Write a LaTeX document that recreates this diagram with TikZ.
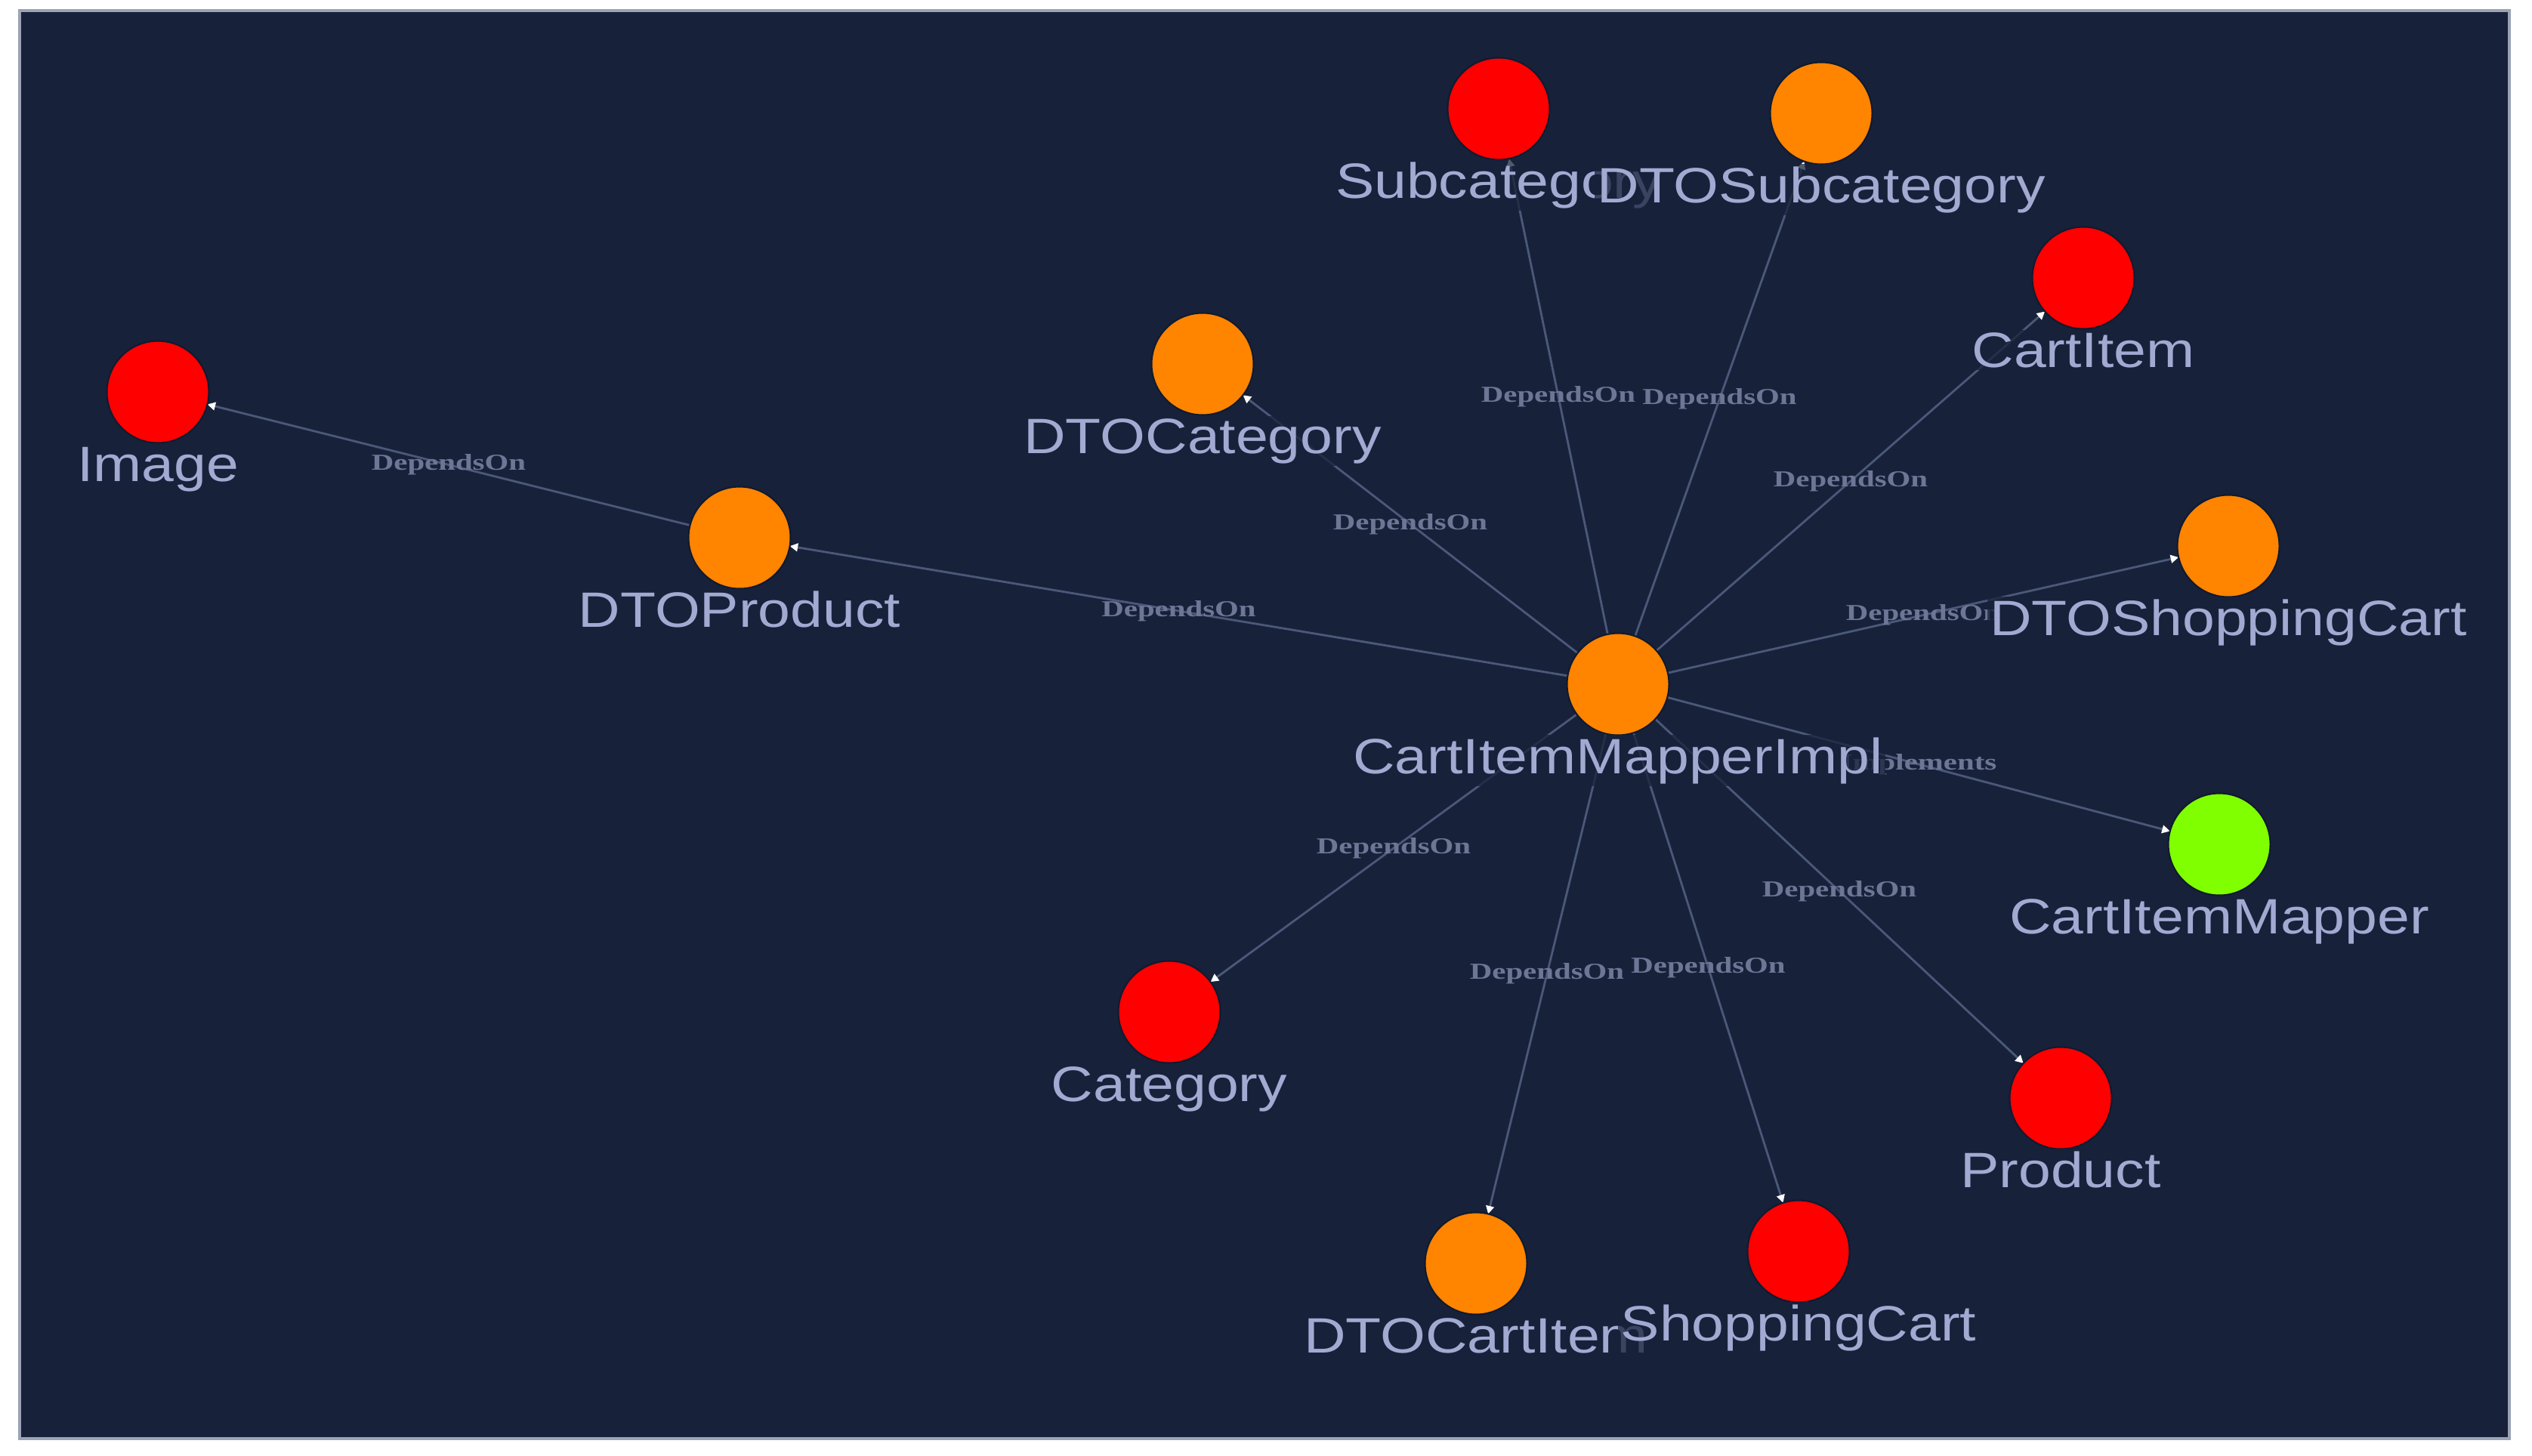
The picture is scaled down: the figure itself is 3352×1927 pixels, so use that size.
\documentclass[tikz,border=0pt]{standalone}
\usepackage{fontspec}
\usetikzlibrary{arrows.meta}
\newfontfamily\nodefont[FakeStretch=1.17]{Liberation Sans}
\newfontfamily\edgefont[FakeStretch=1.35]{Liberation Serif}
\definecolor{bgcol}{HTML}{17223A}
\definecolor{framecol}{HTML}{9AA4B6}
\definecolor{edgecol}{HTML}{4B5879}
\definecolor{labelcol}{HTML}{A3AAD2}
\definecolor{elabelcol}{HTML}{6E7696}
\definecolor{nred}{HTML}{FF0000}
\definecolor{norange}{HTML}{FF8400}
\definecolor{ngreen}{HTML}{80FF00}
\definecolor{ringcol}{HTML}{101A30}
\pgfdeclarelayer{back}
\pgfdeclarelayer{bg}
\pgfdeclarelayer{fg}
\pgfsetlayers{back,bg,main,fg}
\newcommand\vnode[5]{%
  \node[vtx=#4] (#1) at (#2,#3) {};
  \begin{pgfonlayer}{fg}\node[nlab] (#1-l) at (#2,#3+118) {#5};\end{pgfonlayer}}
\begin{document}
\begin{tikzpicture}[x=0.01cm,y=-0.01cm,
  vtx/.style={circle, minimum size=1.35cm, inner sep=0pt, outer sep=0pt, fill=#1, draw=ringcol, line width=0.6pt},
  nlab/.style={font=\nodefont\fontsize{18.7}{22}\selectfont, text=labelcol, fill=bgcol, fill opacity=0.75, text opacity=1, inner sep=1pt, anchor=base},
  edge/.style={draw=edgecol, line width=0.8pt, -{Triangle[length=3pt,width=3pt,color=white]}},
  elab/.style={font=\edgefont\bfseries\fontsize{8.6}{10}\selectfont, text=elabelcol, inner sep=1pt}]
\begin{pgfonlayer}{back}
\fill[white] (0,0) rectangle (3352,1927);
\useasboundingbox (0,0) rectangle (3352,1927);
\draw[framecol, line width=1.2pt, fill=bgcol] (26,14) rectangle (3322,1905);
\end{pgfonlayer}

\vnode{subcat}{1984}{144}{nred}{Subcategory}
\vnode{dtosubcat}{2411}{150}{norange}{DTOSubcategory}
\vnode{cartitem}{2758}{368}{nred}{CartItem}
\vnode{dtocat}{1592}{482}{norange}{DTOCategory}
\vnode{image}{209}{519}{nred}{Image}
\vnode{dtoproduct}{979}{712}{norange}{DTOProduct}
\vnode{dtoshop}{2950}{723}{norange}{DTOShoppingCart}
\vnode{impl}{2142}{906}{norange}{CartItemMapperImpl}
\vnode{mapper}{2938}{1118}{ngreen}{CartItemMapper}
\vnode{category}{1548}{1340}{nred}{Category}
\vnode{product}{2728}{1454}{nred}{Product}
\vnode{dtocartitem}{1954}{1673}{norange}{DTOCartItem}
\vnode{shopcart}{2381}{1657}{nred}{ShoppingCart}

\begin{pgfonlayer}{bg}
\foreach \t in {subcat,dtosubcat,cartitem,dtocat,dtoproduct,dtoshop,category,product,dtocartitem,shopcart}
  \draw[edge] (impl) -- node[elab] {DependsOn} (\t);
\draw[edge] (impl) -- node[elab] {Implements} (mapper);
\draw[edge] (dtoproduct) -- node[elab] {DependsOn} (image);
\end{pgfonlayer}
\end{tikzpicture}
\end{document}
